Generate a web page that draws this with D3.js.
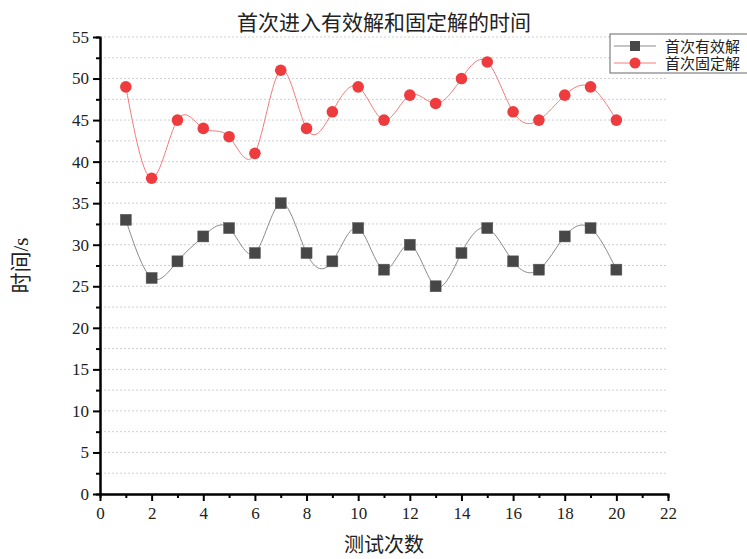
<!DOCTYPE html>
<html>
<head>
<meta charset="utf-8">
<script src="https://cdn.jsdelivr.net/npm/d3@7"></script>
<style>
  body { margin: 0; background: #fff; }
  text { font-family: "Liberation Serif", "Noto Sans CJK SC", serif; }
</style>
</head>
<body>
<div id="chart"></div>
<script>
// data
const trials = [1, 2, 3, 4, 5, 6, 7, 8, 9, 10, 11, 12, 13, 14, 15, 16, 17, 18, 19, 20];
const firstValid = [33, 26, 28, 31, 32, 29, 35, 29, 28, 32, 27, 30, 25, 29, 32, 28, 27, 31, 32, 27];
const firstFixed = [49, 38, 45, 44, 43, 41, 51, 44, 46, 49, 45, 48, 47, 50, 52, 46, 45, 48, 49, 45];
const seriesNames = ["首次有效解", "首次固定解"];
const xTicks = d3.range(0, 23, 2);
const yTicks = d3.range(0, 56, 5);

const width = 747, height = 559;
const margin = {left: 100, right: 79, top: 37, bottom: 65};

const svg = d3.select("#chart")
  .append("svg")
  .attr("width", width)
  .attr("height", height);

const x = d3.scaleLinear().domain([0, 22]).range([margin.left, width - margin.right]);
const y = d3.scaleLinear().domain([0, 55]).range([height - margin.bottom, margin.top]);

// dotted grid at every minor step
svg.append("g")
  .selectAll("line")
  .data(d3.range(2.5, 55.1, 2.5))
  .enter()
  .append("line")
  .attr("x1", x(0))
  .attr("x2", x(22))
  .attr("y1", d => y(d))
  .attr("y2", d => y(d))
  .style("stroke", "#d0d0d0")
  .style("stroke-width", 1)
  .style("stroke-dasharray", "2,2");

// minor ticks
const xMinor = svg.append("g")
  .attr("transform", "translate(0," + y(0) + ")")
  .call(d3.axisBottom(x).tickValues(d3.range(1, 22, 2)).tickSize(4).tickFormat(""));
const yMinor = svg.append("g")
  .attr("transform", "translate(" + x(0) + ",0)")
  .call(d3.axisLeft(y).tickValues(d3.range(2.5, 55, 5)).tickSize(4).tickFormat(""));

const xAxis = svg.append("g")
  .attr("transform", "translate(0," + y(0) + ")")
  .call(d3.axisBottom(x).tickValues(xTicks).tickSize(7).tickSizeOuter(0).tickPadding(6));
const yAxis = svg.append("g")
  .attr("transform", "translate(" + x(0) + ",0)")
  .call(d3.axisLeft(y).tickValues(yTicks).tickSize(7).tickSizeOuter(0).tickPadding(4));

[xMinor, yMinor, xAxis, yAxis].forEach(g => {
  g.selectAll("path").style("stroke", "#000").style("stroke-width", 2);
  g.selectAll("line").style("stroke", "#000").style("stroke-width", 2);
});
[xAxis, yAxis].forEach(g => {
  g.selectAll("text").style("font-size", "17px").style("fill", "#222");
});

// spline lines
const line = d3.line().curve(d3.curveNatural);
const pts1 = trials.map((t, i) => [x(t), y(firstValid[i])]);
const pts2 = trials.map((t, i) => [x(t), y(firstFixed[i])]);

svg.append("path")
  .attr("d", line(pts1))
  .style("fill", "none")
  .style("stroke", "#8a8a8a")
  .style("stroke-width", 1);
svg.append("path")
  .attr("d", line(pts2))
  .style("fill", "none")
  .style("stroke", "#f27c7c")
  .style("stroke-width", 1);

svg.append("g")
  .selectAll("rect")
  .data(pts1)
  .enter()
  .append("rect")
  .attr("x", d => d[0] - 5.5)
  .attr("y", d => d[1] - 5.5)
  .attr("width", 11)
  .attr("height", 11)
  .style("fill", "#474747")
  .style("stroke", "#5a5a5a")
  .style("stroke-width", 0.5);

svg.append("g")
  .selectAll("circle")
  .data(pts2)
  .enter()
  .append("circle")
  .attr("cx", d => d[0])
  .attr("cy", d => d[1])
  .attr("r", 5.8)
  .style("fill", "#ee3b3e");

// titles
svg.append("text")
  .attr("x", 384)
  .attr("y", 30)
  .attr("text-anchor", "middle")
  .style("font-size", "21px")
  .style("fill", "#222")
  .text("首次进入有效解和固定解的时间");

svg.append("text")
  .attr("x", 384)
  .attr("y", 552)
  .attr("text-anchor", "middle")
  .style("font-size", "20px")
  .style("fill", "#222")
  .text("测试次数");

svg.append("text")
  .attr("transform", "translate(28," + y(27.5) + ") rotate(-90)")
  .attr("text-anchor", "middle")
  .style("font-size", "21px")
  .style("fill", "#222")
  .text("时间/s");

// legend
const legend = svg.append("g").attr("transform", "translate(610,34)");
legend.append("rect")
  .attr("width", 146)
  .attr("height", 39)
  .style("fill", "#fff")
  .style("stroke", "#666")
  .style("stroke-width", 1);

const legendRows = [
  {name: seriesNames[0], color: "#8a8a8a", shape: "square"},
  {name: seriesNames[1], color: "#f27c7c", shape: "circle"}
];
legendRows.forEach((d, i) => {
  const row = legend.append("g").attr("transform", "translate(0," + (12 + i * 17) + ")");
  row.append("line")
    .attr("x1", 4).attr("x2", 46)
    .style("stroke", d.color)
    .style("stroke-width", 1);
  if (d.shape === "square") {
    row.append("rect")
      .attr("x", 20).attr("y", -5).attr("width", 10).attr("height", 10)
      .style("fill", "#474747");
  } else {
    row.append("circle")
      .attr("cx", 25).attr("r", 5.5)
      .style("fill", "#ee3b3e");
  }
  row.append("text")
    .attr("x", 55)
    .attr("y", 6)
    .style("font-size", "15px")
    .style("fill", "#222")
    .text(d.name);
});
</script>
</body>
</html>
